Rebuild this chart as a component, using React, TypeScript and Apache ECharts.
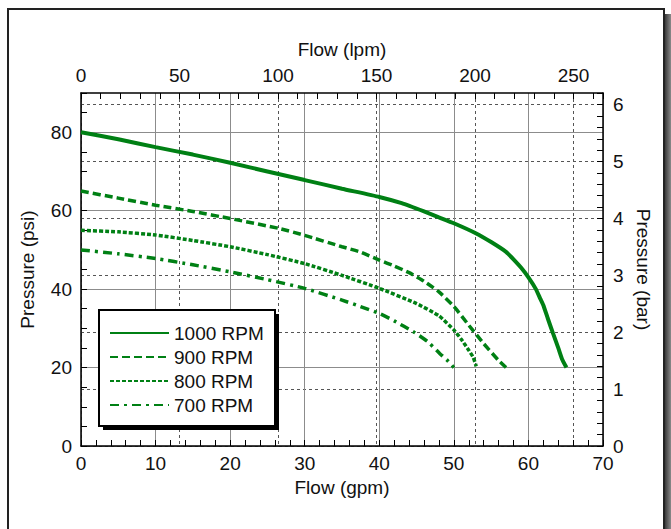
import React, { useEffect, useRef } from "react";
import * as echarts from "echarts";

const seriesNames = ["1000 RPM", "900 RPM", "800 RPM", "700 RPM"];

const rpm1000: [number, number][] = [
  [0, 80], [5, 78.2], [10, 76.2], [15, 74.3], [20, 72.2], [25, 70], [30, 67.8],
  [35, 65.6], [40, 63.5], [43, 61.9], [46, 59.8], [48, 58.3], [50, 56.8],
  [53, 54.2], [55, 52], [57, 49.5], [58, 47.6], [59, 45.5], [60, 43],
  [61, 40], [61.6, 37.5], [62, 35.9], [62.6, 32.5], [63.3, 28.7], [64, 25],
  [64.5, 22.2], [65.1, 20],
];
const rpm900: [number, number][] = [
  [0, 65], [5, 63.2], [10, 61.4], [15, 59.8], [20, 58], [26.5, 55.5], [30, 53.7],
  [35, 50.8], [37.4, 49.5], [40, 47.4], [42, 45.9], [44, 44.2], [46, 42],
  [48, 39.3], [50, 35.6], [52, 30.8], [54, 26.1], [56, 21.8], [57, 20],
];
const rpm800: [number, number][] = [
  [0, 55], [5, 54.6], [10, 53.8], [15, 52.4], [20, 50.8], [25, 48.8], [30, 46.5],
  [35, 43.5], [40, 40.2], [45, 36.3], [48, 33.2], [50, 29.6], [51, 27.2],
  [52, 24.4], [52.6, 22.6], [53, 20.3],
];
const rpm700: [number, number][] = [
  [0, 50], [5, 49], [10, 47.8], [15, 46.2], [20, 44.4], [25, 42.4], [30, 40.2],
  [35, 37.2], [37.4, 35.6], [40, 33.8], [42, 31.9], [44.6, 29.1], [46.5, 26.6],
  [48.1, 23.6], [49.2, 21.7], [50, 20],
];

const GPM_MAX = 70;
const PSI_MAX = 90;
const LPM_PER_GPM = 3.78541;
const PSI_PER_BAR = 14.5038;

const FONT = "'Liberation Sans', Arial, Helvetica, sans-serif";
const GREEN = "#008014";
const GRID_SOLID = "#8c8c8c";
const GRID_DASH = "#555555";
const T = "rgba(0,0,0,0)";

export default function App() {
  const ref = useRef<HTMLDivElement>(null);
  useEffect(() => {
    if (!ref.current) return;
    const chart = echarts.init(ref.current, undefined, { renderer: "svg" });
    const axisLine = { show: true, onZero: false, lineStyle: { color: "#000", width: 1.5 } };
    const tick = { show: true, inside: true, length: 6, lineStyle: { color: "#000", width: 1 } };
    const label = { fontSize: 19, color: "#111", fontFamily: FONT };
    const nameStyle = { fontSize: 19, color: "#111", fontFamily: FONT };
    const isInt = (v: number) => Math.abs(v - Math.round(v)) < 1e-6;

    const mk = (name: string, data: [number, number][], type: any, width: number) => ({
      name,
      type: "line",
      data,
      symbol: "none",
      showSymbol: false,
      smooth: 0.15,
      xAxisIndex: 0,
      yAxisIndex: 0,
      z: 3,
      lineStyle: { color: GREEN, width, type, cap: "butt" },
      itemStyle: { color: GREEN },
    });

    chart.setOption({
      animation: false,
      textStyle: { fontFamily: FONT },
      grid: { left: 81, top: 93, width: 522, height: 353, containLabel: false },
      xAxis: [
        {
          type: "value", position: "bottom", min: 0, max: GPM_MAX, interval: 10,
          axisLine, axisTick: tick,
          minorTick: { show: true, splitNumber: 5, length: 6, lineStyle: { color: "#000", width: 1 } },
          axisLabel: { ...label, margin: 8 },
          splitLine: { show: true, lineStyle: { color: GRID_SOLID, width: 1 } },
          name: "Flow (gpm)", nameLocation: "middle", nameGap: 29, nameTextStyle: nameStyle,
        },
        {
          type: "value", position: "top", min: 0, max: GPM_MAX * LPM_PER_GPM, interval: 10,
          axisLine, axisTick: tick,
          axisLabel: {
            ...label, margin: 8,
            formatter: (v: number) => (isInt(v / 50) ? String(Math.round(v)) : ""),
          },
          splitLine: { show: true, lineStyle: { color: [GRID_DASH, T, T, T, T], width: 1, type: [3, 3] } },
          name: "Flow (lpm)", nameLocation: "middle", nameGap: 34, nameTextStyle: nameStyle,
        },
      ],
      yAxis: [
        {
          type: "value", position: "left", min: 0, max: PSI_MAX, interval: 10,
          axisLine, axisTick: tick,
          minorTick: { show: true, splitNumber: 2, length: 6, lineStyle: { color: "#000", width: 1 } },
          axisLabel: {
            ...label, margin: 9,
            formatter: (v: number) => (isInt(v / 20) ? String(Math.round(v)) : ""),
          },
          splitLine: { show: true, lineStyle: { color: [GRID_SOLID, T], width: 1 } },
          name: "Pressure (psi)", nameLocation: "middle", nameGap: 44, nameRotate: 90, nameTextStyle: nameStyle,
        },
        {
          type: "value", position: "right", min: 0, max: PSI_MAX / PSI_PER_BAR, interval: 0.2,
          axisLine, axisTick: tick,
          axisLabel: {
            ...label, margin: 10,
            formatter: (v: number) => (isInt(v) ? String(Math.round(v)) : ""),
          },
          splitLine: { show: true, lineStyle: { color: [GRID_DASH, T, T, T, T], width: 1, type: [3, 3] } },
          name: "Pressure (bar)", nameLocation: "middle", nameGap: 29, nameRotate: -90, nameTextStyle: nameStyle,
        },
      ],
      legend: {
        data: seriesNames,
        orient: "vertical",
        left: 109,
        top: 323,
        itemWidth: 59,
        itemHeight: 14,
        itemGap: 4,
        padding: 0,
        z: 10,
        itemStyle: { opacity: 0 },
        textStyle: { fontSize: 19, lineHeight: 20, color: "#111", fontFamily: FONT },
      },
      graphic: [
        {
          type: "rect", silent: true, z: 0,
          shape: { x: 8, y: 9, width: 656, height: 540 },
          style: { fill: "none", stroke: "#222", lineWidth: 2 },
        },
        {
          type: "rect", silent: true, z: 0,
          shape: { x: 665, y: 14, width: 6, height: 520 },
          style: {
            fill: new echarts.graphic.LinearGradient(0, 0, 1, 0, [
              { offset: 0, color: "#3a3a3a" },
              { offset: 1, color: "#8a8a8a" },
            ]),
          },
        },
        {
          type: "rect", silent: true, z: 8,
          shape: { x: 103, y: 314, width: 176, height: 116 },
          style: { fill: "#000" },
        },
        {
          type: "rect", silent: true, z: 9,
          shape: { x: 99, y: 310, width: 176, height: 116 },
          style: { fill: "#fff", stroke: "#000", lineWidth: 2 },
        },
      ],
      series: [
        mk(seriesNames[0], rpm1000, "solid", 4),
        mk(seriesNames[1], rpm900, [8, 4], 3.5),
        mk(seriesNames[2], rpm800, [4, 2], 3.5),
        mk(seriesNames[3], rpm700, [9, 5, 3, 5], 3.5),
      ],
    });
    return () => chart.dispose();
  }, []);
  return (
    <div
      ref={ref}
      style={{ position: "fixed", left: 0, top: 0, width: 671, height: 529, background: "#fff" }}
    />
  );
}
